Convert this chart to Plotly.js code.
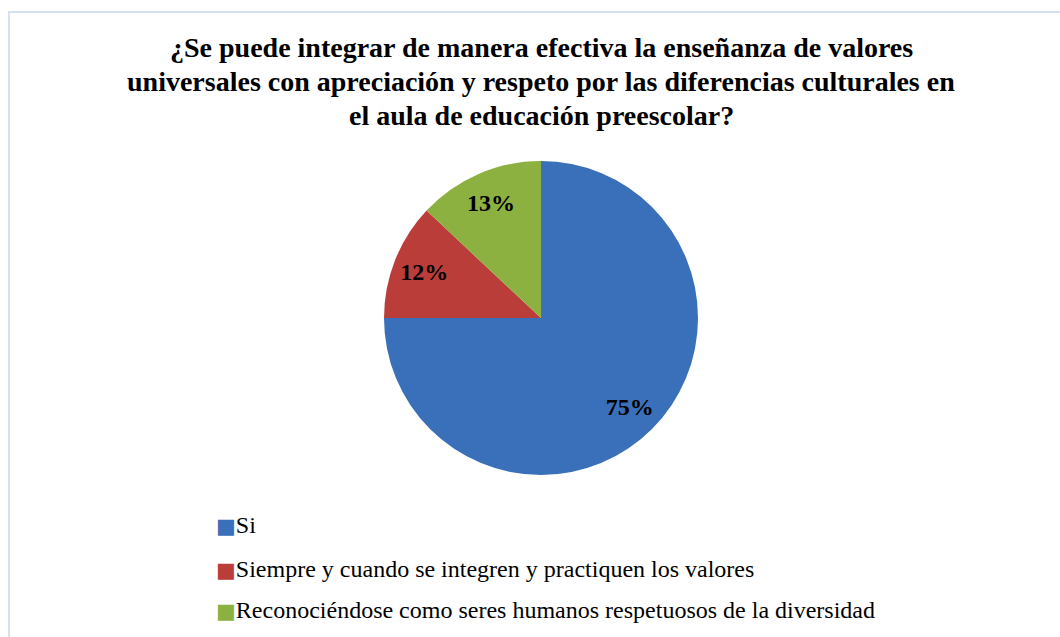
<!DOCTYPE html>
<html>
<head>
<meta charset="utf-8">
<script src="https://cdn.plot.ly/plotly-3.0.1.min.js"></script>
<style>html,body{margin:0;padding:0;background:#fff;}#chart{width:1060px;height:637px;}</style>
</head>
<body>
<div id="chart"></div>
<script>
const titleLines = [
  "¿Se puede integrar de manera efectiva la enseñanza de valores",
  "universales con apreciación y respeto por las diferencias culturales en",
  "el aula de educación preescolar?"
];
const categories = ["Si", "Siempre y cuando se integren y practiquen los valores", "Reconociéndose como seres humanos respetuosos de la diversidad"];
const values = [75, 12, 13];
const colors = ["#3a6fba", "#bb3d3a", "#8cb140"];

const W = 1060, H = 637;
const px = v => v / W, py = v => 1 - v / H;
const SERIF = "Liberation Serif";

const titleBaselines = [58, 92, 126];
const annotations = titleLines.map((t, i) => ({
  xref: "paper", yref: "paper",
  x: px(541), y: py(titleBaselines[i] + 7),
  xanchor: "center", yanchor: "bottom",
  showarrow: false,
  text: "<b>" + t + "</b>",
  font: {family: SERIF, size: 28, color: "#000"}
}));

const legendY = [525, 569, 610];
categories.forEach((c, i) => {
  annotations.push({
    xref: "paper", yref: "paper",
    x: px(214), y: py(legendY[i]),
    xanchor: "left", yanchor: "middle",
    showarrow: false,
    text: '<span style="color:' + colors[i] + ';font-family:DejaVu Sans;font-size:21px">■</span>' + c,
    font: {family: SERIF, size: 24, color: "#000"}
  });
});

const data = [{
  type: "pie",
  labels: categories,
  values: values,
  sort: false,
  direction: "clockwise",
  rotation: 0,
  marker: {colors: colors, line: {width: 0}},
  textinfo: "none",
  domain: {x: [px(384), px(698)], y: [py(475), py(161)]},
  showlegend: false,
  hoverinfo: "label+percent"
}, {
  type: "pie",
  labels: categories,
  values: values,
  sort: false,
  direction: "clockwise",
  rotation: 0,
  hole: 0.6,
  marker: {colors: ["rgba(0,0,0,0)", "rgba(0,0,0,0)", "rgba(0,0,0,0)"], line: {width: 0}},
  textinfo: "percent",
  textposition: "inside",
  insidetextorientation: "horizontal",
  textfont: {family: SERIF, size: 24, color: "#000", weight: "bold"},
  domain: {x: [px(384), px(698)], y: [py(475), py(161)]},
  showlegend: false,
  hoverinfo: "skip"
}];

const layout = {
  width: W, height: H,
  margin: {l: 0, r: 0, t: 0, b: 0},
  paper_bgcolor: "#fff",
  annotations: annotations,
  shapes: [{
    type: "rect", xref: "paper", yref: "paper",
    x0: px(9), x1: 1.02, y0: -0.02, y1: py(12),
    line: {color: "#d4e1f3", width: 2}, fillcolor: "rgba(0,0,0,0)"
  }],
  showlegend: false
};

Plotly.newPlot("chart", data, layout, {displayModeBar: false, staticPlot: true});
</script>
</body>
</html>
